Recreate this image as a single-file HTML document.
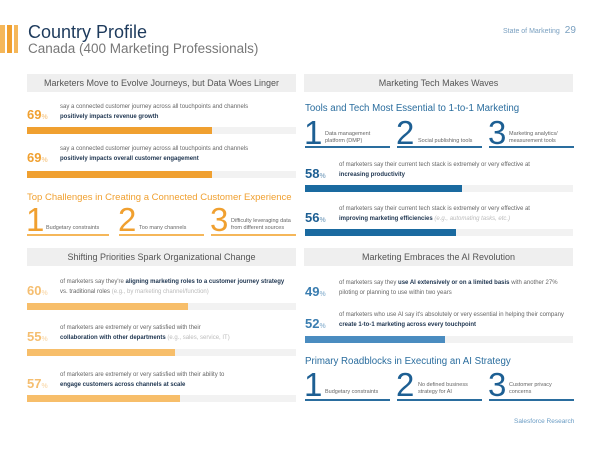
<!DOCTYPE html>
<html><head><meta charset="utf-8"><style>
*{margin:0;padding:0;box-sizing:border-box}
body{width:600px;height:450px;background:#fff;position:relative;overflow:hidden;font-family:"Liberation Sans",sans-serif;color:#555}
.a{position:absolute;white-space:nowrap}
.hdr{position:absolute;height:18px;background:#efefef;color:#555;font-size:9px;text-align:center;line-height:18px}
.track{position:absolute;height:7px;background:#f2f2f2}
.fill{position:absolute;left:0;top:0;height:7px}
.sm{font-size:6px;color:#666}
.b{font-weight:bold;color:#1e3550}
.pct{font-size:13px}
.pct span{font-size:7px;opacity:.5}
.big{position:absolute;font-size:33px;line-height:34px;font-weight:300}
.ul{position:absolute;height:2px}
.lbl{position:absolute;font-size:5.5px;color:#666;line-height:7px}
.gr{color:#bbb}
</style></head><body>
<div class="a" style="left:0;top:25px;width:5px;height:28px;background:#f5b75a"></div>
<div class="a" style="left:7px;top:25px;width:5px;height:28px;background:#f0a030"></div>
<div class="a" style="left:14px;top:25px;width:4px;height:28px;background:#f5b75a"></div>
<div class="a" style="left:28px;top:22px;font-size:18px;color:#1d3a5c">Country Profile</div>
<div class="a" style="left:28px;top:41px;font-size:13.5px;color:#777">Canada (400 Marketing Professionals)</div>
<div class="a" style="left:503px;top:25px;font-size:7px;color:#7aa0c0">State of Marketing <span style="font-size:10px;margin-left:3px">29</span></div>

<div class="hdr" style="left:27px;top:74px;width:269px">Marketers Move to Evolve Journeys, but Data Woes Linger</div>
<div class="hdr" style="left:304px;top:74px;width:269px">Marketing Tech Makes Waves</div>
<div class="hdr" style="left:27px;top:248px;width:269px">Shifting Priorities Spark Organizational Change</div>
<div class="hdr" style="left:304px;top:248px;width:269px">Marketing Embraces the AI Revolution</div>

<!-- left top -->
<div class="a pct" style="left:27px;top:107px;color:#f0a030;font-weight:bold">69<span>%</span></div>
<div class="a sm" style="left:60px;top:104px">say a connected customer journey across all touchpoints and channels</div>
<div class="a sm b" style="left:60px;top:114px">positively impacts revenue growth</div>
<div class="track" style="left:27px;top:127px;width:269px"><div class="fill" style="width:185px;background:#f0a030"></div></div>
<div class="a pct" style="left:27px;top:150px;color:#f0a030;font-weight:bold">69<span>%</span></div>
<div class="a sm" style="left:60px;top:146px">say a connected customer journey across all touchpoints and channels</div>
<div class="a sm b" style="left:60px;top:156px">positively impacts overall customer engagement</div>
<div class="track" style="left:27px;top:171px;width:269px"><div class="fill" style="width:185px;background:#f0a030"></div></div>
<div class="a" style="left:27px;top:192px;font-size:9.5px;color:#f0a030">Top Challenges in Creating a Connected Customer Experience</div>
<div class="big" style="left:26px;top:203px;color:#f0a030">1</div><div class="lbl" style="left:46px;top:225px">Budgetary constraints</div>
<div class="big" style="left:118px;top:203px;color:#f0a030">2</div><div class="lbl" style="left:139px;top:225px">Too many channels</div>
<div class="big" style="left:210px;top:203px;color:#f0a030">3</div><div class="lbl" style="left:231px;top:218px">Difficulty leveraging data<br>from different sources</div>
<div class="ul" style="left:27px;top:234px;width:82px;background:#f5b75a"></div>
<div class="ul" style="left:119px;top:234px;width:85px;background:#f5b75a"></div>
<div class="ul" style="left:211px;top:234px;width:85px;background:#f5b75a"></div>

<!-- right top -->
<div class="a" style="left:305px;top:103px;font-size:9.7px;color:#2a6d9e">Tools and Tech Most Essential to 1-to-1 Marketing</div>
<div class="big" style="left:304px;top:116px;color:#1d5f93">1</div><div class="lbl" style="left:325px;top:131px">Data management<br>platform (DMP)</div>
<div class="big" style="left:396px;top:116px;color:#1d5f93">2</div><div class="lbl" style="left:418px;top:138px">Social publishing tools</div>
<div class="big" style="left:488px;top:116px;color:#1d5f93">3</div><div class="lbl" style="left:509px;top:131px">Marketing analytics/<br>measurement tools</div>
<div class="ul" style="left:305px;top:146px;width:85px;background:#2a6d9e"></div>
<div class="ul" style="left:397px;top:146px;width:85px;background:#2a6d9e"></div>
<div class="ul" style="left:489px;top:146px;width:85px;background:#2a6d9e"></div>
<div class="a pct" style="left:305px;top:166px;color:#1d5f93;font-weight:bold">58<span>%</span></div>
<div class="a sm" style="left:339px;top:162px">of marketers say their current tech stack is extremely or very effective at</div>
<div class="a sm b" style="left:339px;top:172px">increasing productivity</div>
<div class="track" style="left:305px;top:185px;width:268px"><div class="fill" style="width:157px;background:#1a6aa0"></div></div>
<div class="a pct" style="left:305px;top:210px;color:#1d5f93;font-weight:bold">56<span>%</span></div>
<div class="a sm" style="left:339px;top:206px">of marketers say their current tech stack is extremely or very effective at</div>
<div class="a sm b" style="left:339px;top:216px">improving marketing efficiencies <span class="gr" style="font-weight:normal;font-style:italic">(e.g., automating tasks, etc.)</span></div>
<div class="track" style="left:305px;top:229px;width:268px"><div class="fill" style="width:151px;background:#1a6aa0"></div></div>

<!-- left bottom -->
<div class="a pct" style="left:27px;top:283px;color:#f5be70;font-weight:bold">60<span>%</span></div>
<div class="a sm" style="left:60px;top:279px">of marketers say they're <span class="b">aligning marketing roles to a customer journey strategy</span></div>
<div class="a sm" style="left:60px;top:289px">vs. traditional roles <span class="gr">(e.g., by marketing channel/function)</span></div>
<div class="track" style="left:27px;top:303px;width:269px"><div class="fill" style="width:161px;background:#f7be6a"></div></div>
<div class="a pct" style="left:27px;top:329px;color:#f5be70;font-weight:bold">55<span>%</span></div>
<div class="a sm" style="left:60px;top:325px">of marketers are extremely or very satisfied with their</div>
<div class="a sm" style="left:60px;top:335px"><span class="b">collaboration with other departments</span> <span class="gr">(e.g., sales, service, IT)</span></div>
<div class="track" style="left:27px;top:349px;width:269px"><div class="fill" style="width:148px;background:#f7be6a"></div></div>
<div class="a pct" style="left:27px;top:376px;color:#f5be70;font-weight:bold">57<span>%</span></div>
<div class="a sm" style="left:60px;top:372px">of marketers are extremely or very satisfied with their ability to</div>
<div class="a sm b" style="left:60px;top:382px">engage customers across channels at scale</div>
<div class="track" style="left:27px;top:395px;width:269px"><div class="fill" style="width:153px;background:#f7be6a"></div></div>

<!-- right bottom -->
<div class="a pct" style="left:305px;top:284px;color:#3a7db0;font-weight:bold">49<span>%</span></div>
<div class="a sm" style="left:339px;top:280px">of marketers say they <span class="b">use AI extensively or on a limited basis</span> with another 27%</div>
<div class="a sm" style="left:339px;top:290px">piloting or planning to use within two years</div>
<div class="a pct" style="left:305px;top:316px;color:#3a7db0;font-weight:bold">52<span>%</span></div>
<div class="a sm" style="left:339px;top:312px">of marketers who use AI say it's absolutely or very essential in helping their company</div>
<div class="a sm b" style="left:339px;top:322px">create 1-to-1 marketing across every touchpoint</div>
<div class="track" style="left:305px;top:336px;width:268px"><div class="fill" style="width:140px;background:#4a8cc0"></div></div>
<div class="a" style="left:305px;top:356px;font-size:9.7px;color:#2a6d9e">Primary Roadblocks in Executing an AI Strategy</div>
<div class="big" style="left:304px;top:368px;color:#1d5f93">1</div><div class="lbl" style="left:325px;top:389px">Budgetary constraints</div>
<div class="big" style="left:396px;top:368px;color:#1d5f93">2</div><div class="lbl" style="left:418px;top:382px">No defined business<br>strategy for AI</div>
<div class="big" style="left:488px;top:368px;color:#1d5f93">3</div><div class="lbl" style="left:509px;top:382px">Customer privacy<br>concerns</div>
<div class="ul" style="left:305px;top:399px;width:85px;background:#2a6d9e"></div>
<div class="ul" style="left:397px;top:399px;width:85px;background:#2a6d9e"></div>
<div class="ul" style="left:489px;top:399px;width:85px;background:#2a6d9e"></div>
<div class="a" style="left:514px;top:418px;font-size:6.5px;color:#6a9cc4">Salesforce Research</div>
</body></html>
